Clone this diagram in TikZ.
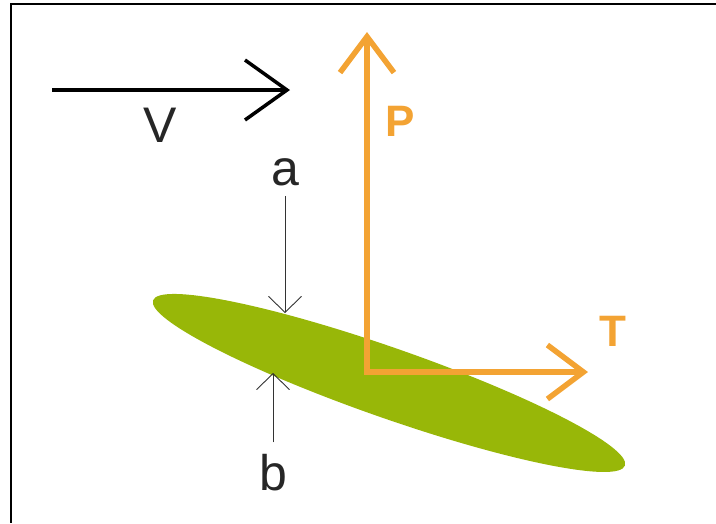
\documentclass[tikz,border=0pt]{standalone}
\usepackage{fontspec}
\setmainfont{Liberation Sans}
\usetikzlibrary{arrows.meta}
\definecolor{forceorange}{RGB}{243,163,51}
\definecolor{winggreen}{RGB}{152,183,8}
\tikzset{
    force/.style={forceorange, line width=5.5pt, line join=miter},
    forcetip/.tip={Straight Barb[length=36pt,width=54pt]},
    forcelabel/.style={text=forceorange, font=\bfseries\fontsize{44}{44}\selectfont, inner sep=0pt},
    dim/.style={black!80, line width=0.9pt, -{Straight Barb[length=16pt,width=33pt]}},
    letter/.style={text=black!85, font=\fontsize{50}{50}\selectfont, inner sep=0pt}
}
\begin{document}
\begin{tikzpicture}[x=1pt,y=-1pt]
    \useasboundingbox (0,0) rectangle (716,523);
    % frame (only top and left edge show)
    \draw[line width=2.8pt] (716,4) -- (11,4) -- (11,523);
    % wing section
    \coordinate (wing) at (389,383);
    \fill[winggreen, rotate around={-19.3:(wing)}] (wing) ellipse [x radius=250pt, y radius=35pt];
    % velocity
    \coordinate (vtail) at (52,90);
    \coordinate (vhead) at (290,90);
    \draw[line width=3.5pt, -{Straight Barb[length=42pt,width=60pt]}] (vtail) -- (vhead);
    \node[letter] (vlabel) at (160,125) {V};
    % thickness a and b
    \node[letter] (alabel) at (285,172) {a};
    \coordinate (atop) at (285,313);
    \draw[dim, shorten <=10pt] (alabel) -- (atop);
    \node[letter] (blabel) at (273,473) {b};
    \coordinate (bbot) at (273,373);
    \draw[dim, shorten <=12pt] (blabel) -- (bbot);
    % forces P and T
    \coordinate (ptip) at (367,32);
    \coordinate (ttip) at (588,372);
    \draw[force, forcetip-forcetip] (ptip) |- (ttip);
    \node[forcelabel] (plabel) at (400,121) {P};
    \node[forcelabel] (tlabel) at (613,331) {T};
\end{tikzpicture}
\end{document}
